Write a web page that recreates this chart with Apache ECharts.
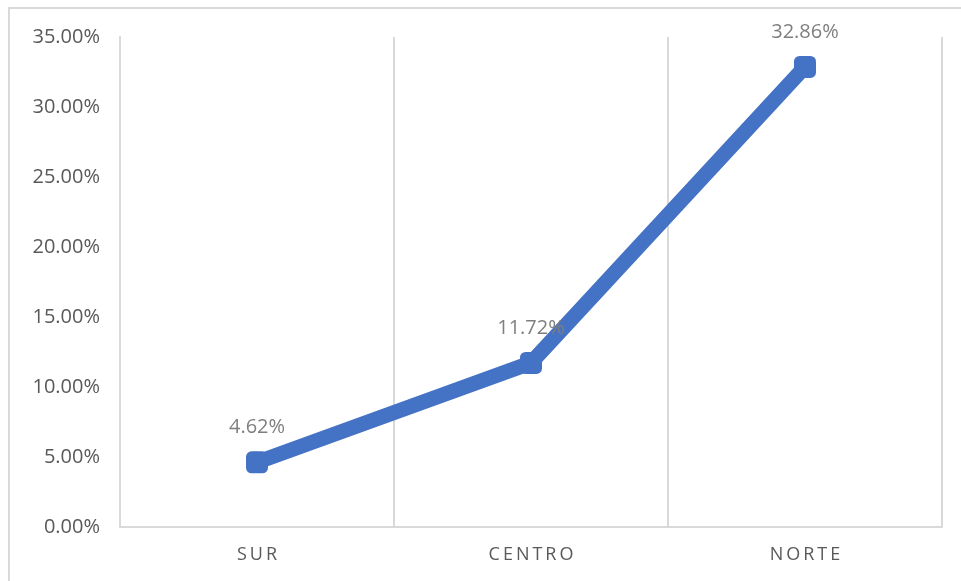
<!DOCTYPE html>
<html>
<head>
<meta charset="utf-8">
<script src="https://cdn.jsdelivr.net/npm/echarts@6/dist/echarts.min.js"></script>
<style>html,body{margin:0;padding:0;background:#fff;}#c{width:961px;height:581px;}</style>
</head>
<body>
<div id="c"></div>
<script>
const categories = ['SUR', 'CENTRO', 'NORTE'];
const values = [4.62, 11.72, 32.86];
const yTicks = [0, 5, 10, 15, 20, 25, 30, 35];

const chart = echarts.init(document.getElementById('c'), null, {renderer: 'canvas'});
chart.setOption({
  backgroundColor: '#fff',
  animation: false,
  graphic: [{
    type: 'rect',
    shape: {x: 9, y: 8, width: 1000, height: 1000},
    style: {fill: 'none', stroke: '#d9d9d9', lineWidth: 2},
    silent: true
  }],
  grid: {left: 120, right: 19, top: 37, bottom: 54, containLabel: false},
  xAxis: {
    type: 'category',
    data: categories,
    boundaryGap: true,
    axisLine: {show: true, lineStyle: {color: '#d9d9d9', width: 2}},
    axisTick: {show: false},
    splitLine: {show: true, lineStyle: {color: '#d9d9d9', width: 2}},
    axisLabel: {color: '#595959', fontSize: 18, fontFamily: 'Open Sans', margin: 19,
      formatter: v => v.split('').join('\u2009')}
  },
  yAxis: {
    type: 'value',
    min: yTicks[0],
    max: yTicks[yTicks.length - 1],
    interval: 5,
    axisLine: {show: true, lineStyle: {color: '#d9d9d9', width: 2}},
    axisTick: {show: false},
    splitLine: {show: false},
    axisLabel: {color: '#595959', fontSize: 20, fontFamily: 'Open Sans', margin: 20,
      formatter: v => v.toFixed(2) + '%'}
  },
  series: [{
    type: 'line',
    data: values,
    symbol: 'roundRect',
    symbolSize: 22,
    itemStyle: {color: '#4472C4'},
    lineStyle: {color: '#4472C4', width: 15},
    label: {
      show: true, position: 'top', distance: 14,
      color: '#7f7f7f', fontSize: 20, fontFamily: 'Open Sans',
      formatter: p => p.value.toFixed(2) + '%'
    }
  }]
});
</script>
</body>
</html>
